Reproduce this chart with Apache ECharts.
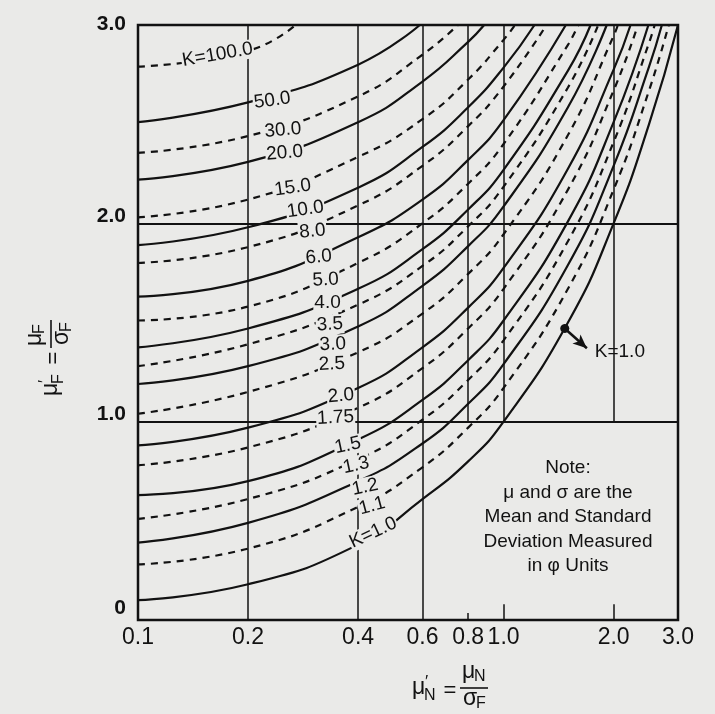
<!DOCTYPE html>
<html>
<head>
<meta charset="utf-8">
<script src="https://cdn.jsdelivr.net/npm/echarts@6/dist/echarts.min.js"></script>
<style>
html, body { margin: 0; padding: 0; background: #eaeae8; }
#chart { width: 715px; height: 714px; }
</style>
</head>
<body>
<div id="chart"></div>
<script>
// mu'_N stations where the K curves were read (grid lines mostly)
const stations = [0.1, 0.2, 0.4, 0.6, 0.8, 1.0, 1.5, 2.0, 2.5];

const kNames = ['1.0', '1.1', '1.2', '1.3', '1.5', '1.75', '2.0', '2.5', '3.0', '3.5',
                '4.0', '5.0', '6.0', '8.0', '10.0', '15.0', '20.0', '30.0', '50.0', '100.0'];

// mu'_F of each K curve at the stations (null = curve already left the top)
const kValues = [
  [0.10, 0.18, 0.38, 0.61, 0.80, 1.00, 1.50, 2.00, 2.50],
  [0.28, 0.36, 0.57, 0.77, 0.97, 1.17, 1.67, 2.17, 2.67],
  [0.39, 0.49, 0.70, 0.89, 1.09, 1.29, 1.79, 2.29, 2.79],
  [0.51, 0.61, 0.81, 1.01, 1.21, 1.41, 1.91, 2.41, 2.91],
  [0.63, 0.70, 0.91, 1.11, 1.31, 1.51, 2.01, 2.51, null],
  [0.78, 0.87, 1.07, 1.27, 1.47, 1.67, 2.17, 2.67, null],
  [0.88, 0.97, 1.17, 1.375, 1.575, 1.775, 2.275, 2.775, null],
  [1.04, 1.15, 1.35, 1.545, 1.745, 1.945, 2.445, 2.945, null],
  [1.19, 1.28, 1.48, 1.685, 1.885, 2.085, 2.585, null, null],
  [1.28, 1.39, 1.59, 1.785, 1.985, 2.185, 2.685, null, null],
  [1.375, 1.47, 1.67, 1.87, 2.07, 2.27, 2.77, null, null],
  [1.51, 1.58, 1.80, 2.00, 2.20, 2.40, 2.90, null, null],
  [1.63, 1.71, 1.93, 2.12, 2.32, 2.52, null, null, null],
  [1.80, 1.88, 2.09, 2.29, 2.49, 2.69, null, null, null],
  [1.89, 1.98, 2.18, 2.385, 2.585, 2.785, null, null, null],
  [2.03, 2.12, 2.335, 2.525, 2.725, 2.925, null, null, null],
  [2.22, 2.31, 2.51, 2.715, 2.915, null, null, null, null],
  [2.355, 2.44, 2.64, 2.85, null, null, null, null, null],
  [2.51, 2.61, 2.80, null, null, null, null, null, null],
  [2.79, 2.87, null, null, null, null, null, null, null]
];

// where each curve runs out of the top edge (mu'_F = 3.0)
const topExitX = [3.0, 2.83, 2.71, 2.59, 2.49, 2.33, 2.225, 2.055, 1.915, 1.815,
                  1.73, 1.60, 1.48, 1.31, 1.215, 1.075, 0.885, 0.75, 0.59, 0.27];

// curve labels, sitting on their curves
const labelX = [0.44, 0.437, 0.418, 0.395, 0.375, 0.347, 0.359, 0.339, 0.341, 0.335,
                0.33, 0.326, 0.312, 0.30, 0.287, 0.265, 0.252, 0.249, 0.233, 0.165];
const labelY = [0.44, 0.575, 0.67, 0.78, 0.88, 1.02, 1.13, 1.29, 1.39, 1.49,
                1.60, 1.715, 1.83, 1.96, 2.07, 2.18, 2.355, 2.47, 2.62, 2.85];
const labelRot = [25, 15, 12, 12, 12, 3, 5, 3, 3, 3, 0, 3, 5, 5, 8, 8, 5, 5, 8, 10];

const xTicks = [0.1, 0.2, 0.4, 0.6, 0.8, 1.0, 2.0, 3.0];
const yTicks = [0, 1, 2, 3];

// frame lines inside the chart
const vLineX = [0.2, 0.4, 0.6, 0.8, 1.0, 2.0];
const vLineFrom = [0, 0, 0, 1, 1, 1];
const hLineY = [1, 2];
const bottomTickX = [0.8, 1.0, 2.0];
const bottomTickTop = [0.035, 0.08, 0.08];

// K=1.0 callout
const dotPt = [1.47, 1.47];
const arrowTip = [1.69, 1.37];
const calloutPt = [2.08, 1.35];

const ink = '#121212';
const paper = '#eaeae8';
const font = 'Liberation Sans, Arial, sans-serif';

const chart = echarts.init(document.getElementById('chart'));

const series = [];

series.push({
  type: 'line', data: [], silent: true, z: 1,
  markLine: {
    silent: true, animation: false, symbol: ['none', 'none'], label: { show: false },
    lineStyle: { color: ink, width: 1.5, type: 'solid' },
    data: vLineX.map((x, i) => [{ coord: [x, vLineFrom[i]] }, { coord: [x, 3] }])
      .concat(bottomTickX.map((x, i) => [{ coord: [x, 0] }, { coord: [x, bottomTickTop[i]] }]))
  }
});
series.push({
  type: 'line', data: [], silent: true, z: 1,
  markLine: {
    silent: true, animation: false, symbol: ['none', 'none'], label: { show: false },
    lineStyle: { color: ink, width: 2.2, type: 'solid' },
    data: hLineY.map(y => [{ coord: [0.1, y] }, { coord: [3, y] }])
  }
});

kNames.forEach((name, i) => {
  const pts = [];
  stations.forEach((x, j) => {
    const y = kValues[i][j];
    if (y != null && x < topExitX[i]) pts.push([x, y]);
  });
  pts.push([topExitX[i], 3]);
  series.push({
    name: 'K=' + name, type: 'line', data: pts, showSymbol: false,
    smooth: 0.5, silent: true, z: 3,
    lineStyle: { color: ink, width: 2.2, type: i % 2 ? [7, 6] : 'solid' }
  });
});

const labelText = {
  show: true, position: 'inside', color: ink, fontFamily: font, fontSize: 19,
  textBorderWidth: 0, textBorderColor: 'transparent', textShadowBlur: 0
};

// labels on the curves, with a paper coloured box to break the line
series.push({
  type: 'scatter', symbolSize: 0, silent: true, z: 8,
  itemStyle: { color: ink, opacity: 1 },
  data: labelX.map((x, i) => ({ value: [x, labelY[i]], label: { rotate: labelRot[i] } })),
  label: Object.assign({}, labelText, {
    backgroundColor: paper, padding: [0, 1],
    formatter: p => (p.dataIndex === 0 || p.dataIndex === kNames.length - 1 ? 'K=' : '') + kNames[p.dataIndex]
  })
});

// the dot + arrow pointing at K=1.0
series.push({
  type: 'line', data: [], silent: true, z: 9,
  markLine: {
    silent: true, animation: false, symbol: ['circle', 'arrow'], symbolSize: [9, 14],
    label: { show: false }, lineStyle: { color: ink, width: 2.5, type: 'solid' },
    itemStyle: { color: ink },
    data: [[{ coord: dotPt }, { coord: arrowTip }]]
  }
});
series.push({
  type: 'scatter', symbolSize: 0, silent: true, z: 9,
  itemStyle: { color: ink, opacity: 1 },
  data: [calloutPt],
  label: Object.assign({}, labelText, { formatter: 'K=1.0' })
});

function fracTitle(x, y, rot, sub) {
  return {
    type: 'group', x: x, y: y, rotation: rot, silent: true,
    children: [
      { type: 'text', x: -38, y: -3, style: { text: 'μ', font: '23px ' + font, fill: ink, textVerticalAlign: 'middle' } },
      { type: 'text', x: -25, y: -9, style: { text: '′', font: '17px ' + font, fill: ink, textVerticalAlign: 'middle' } },
      { type: 'text', x: -26, y: 5, style: { text: sub, font: '16px ' + font, fill: ink, textVerticalAlign: 'middle' } },
      { type: 'text', x: 0, y: 0, style: { text: '=', font: '22px ' + font, fill: ink, textAlign: 'center', textVerticalAlign: 'middle' } },
      { type: 'text', x: 12, y: -19, style: { text: 'μ', font: '23px ' + font, fill: ink, textVerticalAlign: 'middle' } },
      { type: 'text', x: 24, y: -14, style: { text: 'N', font: '16px ' + font, fill: ink, textVerticalAlign: 'middle' } },
      { type: 'line', shape: { x1: 10, y1: -3, x2: 38, y2: -3 }, style: { stroke: ink, lineWidth: 1.6 } },
      { type: 'text', x: 13, y: 8, style: { text: 'σ', font: '23px ' + font, fill: ink, textVerticalAlign: 'middle' } },
      { type: 'text', x: 26, y: 13, style: { text: 'F', font: '16px ' + font, fill: ink, textVerticalAlign: 'middle' } }
    ]
  };
}

const xTitle = fracTitle(450, 691, 0, 'N');
const yTitle = fracTitle(54, 358, Math.PI / 2, 'F');
// numerator of the y title is mu_F
yTitle.children[5].style.text = 'F';

chart.setOption({
  animation: false,
  backgroundColor: paper,
  grid: { left: 138, right: 37, top: 25, bottom: 94, show: true, borderColor: ink, borderWidth: 2.5, backgroundColor: 'transparent' },
  xAxis: {
    type: 'log', logBase: 10, min: 0.1, max: 3,
    axisLine: { show: false }, splitLine: { show: false }, axisTick: { show: false }, minorTick: { show: false },
    axisLabel: {
      customValues: xTicks, color: ink, fontFamily: font, fontSize: 23, margin: 6,
      formatter: v => Number(v).toFixed(1)
    }
  },
  yAxis: {
    type: 'value', min: 0, max: 3, interval: 1,
    axisLine: { show: false }, splitLine: { show: false }, axisTick: { show: false },
    axisLabel: {
      customValues: yTicks, color: ink, fontFamily: font, fontSize: 21, fontWeight: 'bold', margin: 12,
      formatter: v => (v === 0 ? '{z|0}' : v === 3 ? '{t|3.0}' : '{u|' + Number(v).toFixed(1) + '}'),
      rich: {
        z: { fontSize: 21, fontWeight: 'bold', fontFamily: font, color: ink, padding: [0, 0, 24, 0] },
        u: { fontSize: 21, fontWeight: 'bold', fontFamily: font, color: ink, padding: [0, 0, 14, 0] },
        t: { fontSize: 21, fontWeight: 'bold', fontFamily: font, color: ink, padding: [0, 0, 2, 0] }
      }
    }
  },
  series: series,
  graphic: [
    xTitle,
    yTitle,
    {
      type: 'text', x: 568, y: 456, silent: true,
      style: {
        text: 'Note:\nμ and σ are the\nMean and Standard\nDeviation Measured\nin φ Units',
        font: '19px ' + font, fill: ink, textAlign: 'center', lineHeight: 24.5
      }
    }
  ]
});
</script>
</body>
</html>
